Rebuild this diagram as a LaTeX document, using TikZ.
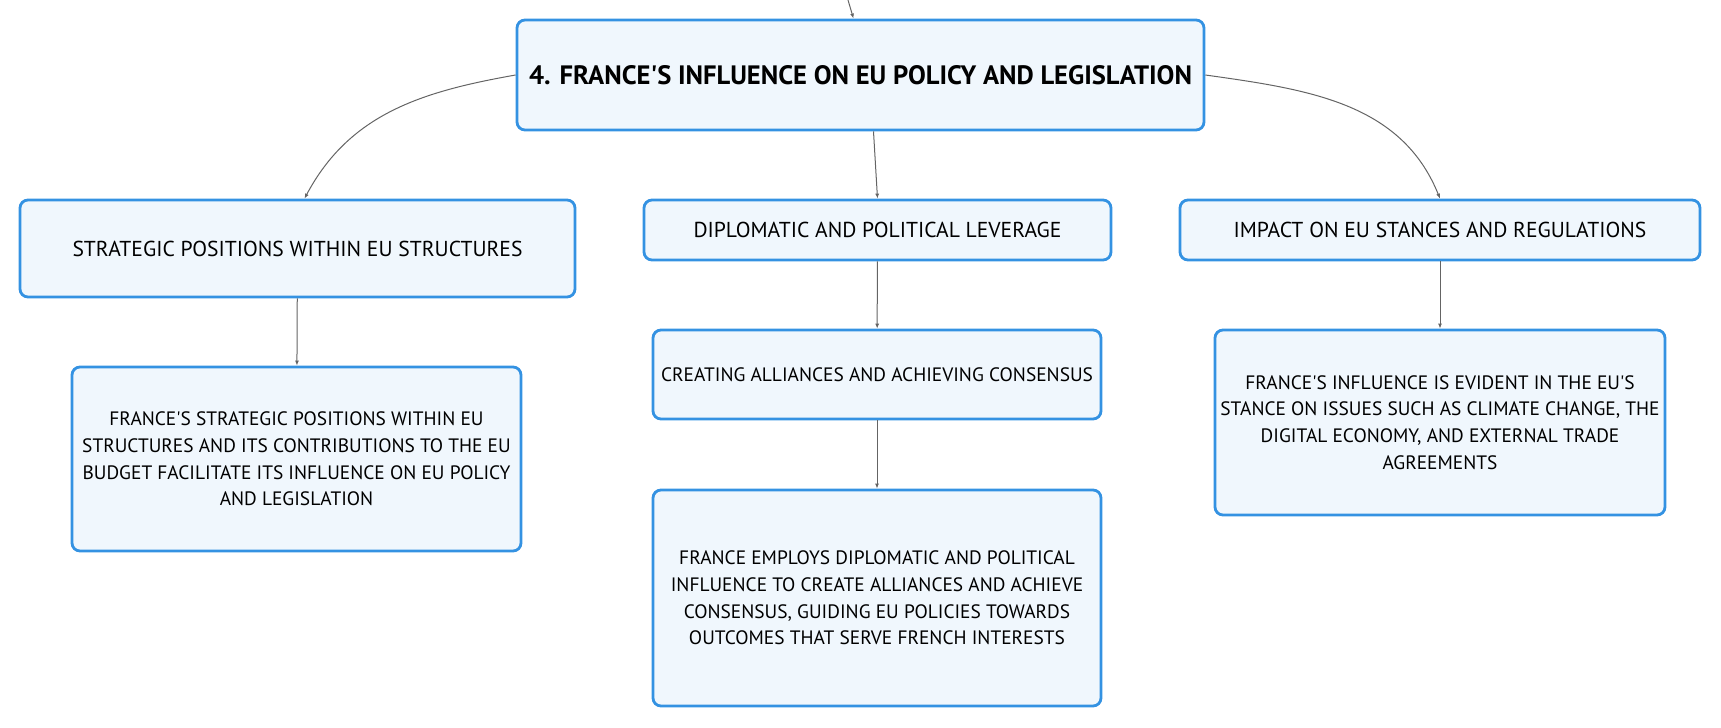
\documentclass[tikz,border=0pt]{standalone}
\usepackage{fontspec}
\setmainfont{PT Sans}
\usepackage{tikz}
\usetikzlibrary{arrows.meta, calc}

\definecolor{boxline}{RGB}{52,146,226}
\definecolor{boxfill}{RGB}{240,247,253}
\definecolor{linkgray}{RGB}{100,100,100}

\newcommand{\ap}{\textquotesingle}

\begin{document}
\begin{tikzpicture}[x=0.5pt, y=-0.5pt,
    box/.style={draw=boxline, line width=1.4pt, fill=boxfill, rounded corners=4pt,
        inner sep=0pt, align=center, font=\fontsize{9.7}{13.3}\selectfont},
    branchbox/.style={box, font=\fontsize{10.8}{13.3}\selectfont},
    rootbox/.style={box, font=\fontsize{13.3}{16}\selectfont\bfseries},
    link/.style={draw=linkgray, line width=0.5pt, -{Latex[length=2.5pt, width=2pt]}}]
			\useasboundingbox (0, 0) rectangle (1721, 728);
			
			\coordinate (top) at (848, 0);
			
			\node[rootbox, minimum width=343.5pt, minimum height=55pt] (root) at (860.5, 75)
				{4. FRANCE\ap S INFLUENCE ON EU POLICY AND LEGISLATION};
			
			\node[branchbox, minimum width=277.5pt, minimum height=48.5pt] (strat) at (297.5, 248.5)
				{STRATEGIC POSITIONS WITHIN EU STRUCTURES};
			\node[branchbox, minimum width=233.5pt, minimum height=30pt] (lever) at (877.5, 230)
				{DIPLOMATIC AND POLITICAL LEVERAGE};
			\node[branchbox, minimum width=260pt, minimum height=30pt] (impact) at (1440, 230)
				{IMPACT ON EU STANCES AND REGULATIONS};
			
			\node[box, minimum width=224.5pt, minimum height=92pt] (stratdesc) at (296.5, 459)
				{FRANCE\ap S STRATEGIC POSITIONS WITHIN EU\\ STRUCTURES AND ITS CONTRIBUTIONS TO THE EU\\ BUDGET FACILITATE ITS INFLUENCE ON EU POLICY\\ AND LEGISLATION};
			\node[box, minimum width=224pt, minimum height=44.5pt] (alliance) at (877, 374.5)
				{CREATING ALLIANCES AND ACHIEVING CONSENSUS};
			\node[box, minimum width=224pt, minimum height=108pt] (allydesc) at (877, 598)
				{FRANCE EMPLOYS DIPLOMATIC AND POLITICAL\\ INFLUENCE TO CREATE ALLIANCES AND ACHIEVE\\ CONSENSUS, GUIDING EU POLICIES TOWARDS\\ OUTCOMES THAT SERVE FRENCH INTERESTS};
			\node[box, minimum width=225pt, minimum height=92.5pt] (impactdesc) at (1440, 422.5)
				{FRANCE\ap S INFLUENCE IS EVIDENT IN THE EU\ap S\\ STANCE ON ISSUES SUCH AS CLIMATE CHANGE, THE\\ DIGITAL ECONOMY, AND EXTERNAL TRADE\\ AGREEMENTS};
			
			% links from the root
			\draw[link] (top) -- ($(root.north)+(-7, 0)$);
			\draw[link] (root.west) to[out=190, in=62] ($(strat.north)+(7, 0)$);
			\draw[link] (root.east) to[out=-8, in=112] (impact.north);
			\draw[link] ($(root.south)+(13, 0)$) -- (lever.north);
			
			% links down each branch
			\draw[link] (strat) -- (stratdesc);
			\draw[link] (lever) -- (alliance);
			\draw[link] (alliance) -- (allydesc);
			\draw[link] (impact) -- (impactdesc);
			\end{tikzpicture}
\end{document}
